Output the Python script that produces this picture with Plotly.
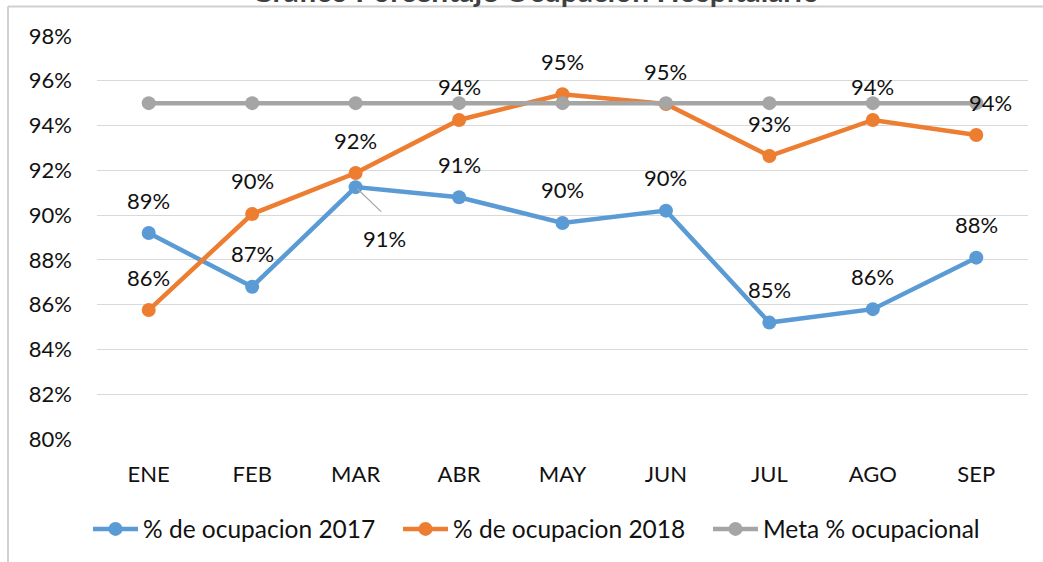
import plotly.graph_objects as go

months = ["ENE", "FEB", "MAR", "ABR", "MAY", "JUN", "JUL", "AGO", "SEP"]
occ_2017 = [89.2, 86.8, 91.25, 90.8, 89.65, 90.2, 85.2, 85.8, 88.1]
occ_2018 = [85.76, 90.05, 91.88, 94.25, 95.4, 94.96, 92.64, 94.25, 93.58]
meta = [95, 95, 95, 95, 95, 95, 95, 95, 95]
y_ticks = [80, 82, 84, 86, 88, 90, 92, 94, 96, 98]
title_text = "Grafico Porcentaje Ocupacion Hospitalario"

W, H = 1043, 562
ML, MR, MT, MB = 97, 15, 36, 123
PW, PH = W - ML - MR, H - MT - MB
FONT = "Lato, 'Open Sans', sans-serif"
FS = 22

BLUE, ORANGE, GRAY = "#5B9BD5", "#ED7D31", "#A5A5A5"

fig = go.Figure()
for name, vals, col in [("% de ocupacion 2017", occ_2017, BLUE),
                        ("% de ocupacion 2018", occ_2018, ORANGE),
                        ("Meta % ocupacional", meta, GRAY)]:
    fig.add_trace(go.Scatter(x=months, y=vals, name=name, mode="lines+markers",
                             line=dict(color=col, width=4.5),
                             marker=dict(color=col, size=14),
                             cliponaxis=False))

# data labels
special = {("2017", 2): dict(xshift=29, yshift=-51),
           ("2018", 8): dict(xshift=14, yshift=32)}
for key, vals in [("2017", occ_2017), ("2018", occ_2018)]:
    for i, (m, v) in enumerate(zip(months, vals)):
        sh = special.get((key, i), dict(xshift=0, yshift=33))
        fig.add_annotation(x=m, y=v, text=f"{round(v):.0f}%", showarrow=False,
                           xshift=sh["xshift"], yshift=sh["yshift"],
                           yanchor="middle", xanchor="center",
                           font=dict(family=FONT, size=FS, color="#111111"))
# leader line for MAR 2017 label
fig.add_annotation(x=months[2], y=occ_2017[2], text="", showarrow=True,
                   ax=27, ay=26, arrowhead=0, arrowwidth=1.2, arrowcolor="#A6A6A6",
                   standoff=2)

# title (cropped at the top of the picture); box bottom sits this many px below the top
title_bottom_px = 10
fig.add_annotation(xref="paper", yref="paper", x=(535 - ML) / PW,
                   y=(H - MB - title_bottom_px) / PH,
                   text=f"<b>{title_text}</b>", showarrow=False,
                   xanchor="center", yanchor="bottom",
                   font=dict(family=FONT, size=30, color="#404040"))

# chart frame lines (left and top)
fx = (8 - ML) / PW
fy = (H - MB - 6.5) / PH
fig.add_shape(type="line", xref="paper", yref="paper", x0=fx, x1=(W - ML) / PW,
              y0=fy, y1=fy, line=dict(color="#D0D0D0", width=2))
fig.add_shape(type="line", xref="paper", yref="paper", x0=fx, x1=fx,
              y0=fy, y1=-(MB + 5) / PH, line=dict(color="#D0D0D0", width=2))

fig.update_layout(
    width=W, height=H,
    margin=dict(l=ML, r=MR, t=MT, b=MB, autoexpand=False),
    paper_bgcolor="white", plot_bgcolor="white",
    font=dict(family=FONT, size=FS, color="#111111"),
    showlegend=True,
    legend=dict(orientation="h", xref="container", x=88 / W, xanchor="left",
                yref="container", y=(H - 529) / H, yanchor="middle",
                font=dict(family=FONT, size=24.5, color="#111111"),
                itemwidth=45, entrywidth=250, entrywidthmode="pixels",
                bgcolor="rgba(0,0,0,0)"),
    xaxis=dict(type="category", range=[-0.5, len(months) - 0.5], showgrid=False,
               showline=False, ticks="", zeroline=False, ticklabelstandoff=20,
               tickfont=dict(family=FONT, size=FS, color="#111111")),
    yaxis=dict(range=[80, 98], tickvals=y_ticks, ticktext=[f"{t}%" for t in y_ticks],
               showgrid=True, gridcolor="#D9D9D9", gridwidth=1.2, zeroline=False,
               showline=False, ticks="", ticklabelstandoff=24,
               tickfont=dict(family=FONT, size=FS, color="#111111")),
)

fig.write_html("out.html", config={"displayModeBar": False},
               post_script="document.body.style.margin='0';document.body.style.overflow='hidden';")
